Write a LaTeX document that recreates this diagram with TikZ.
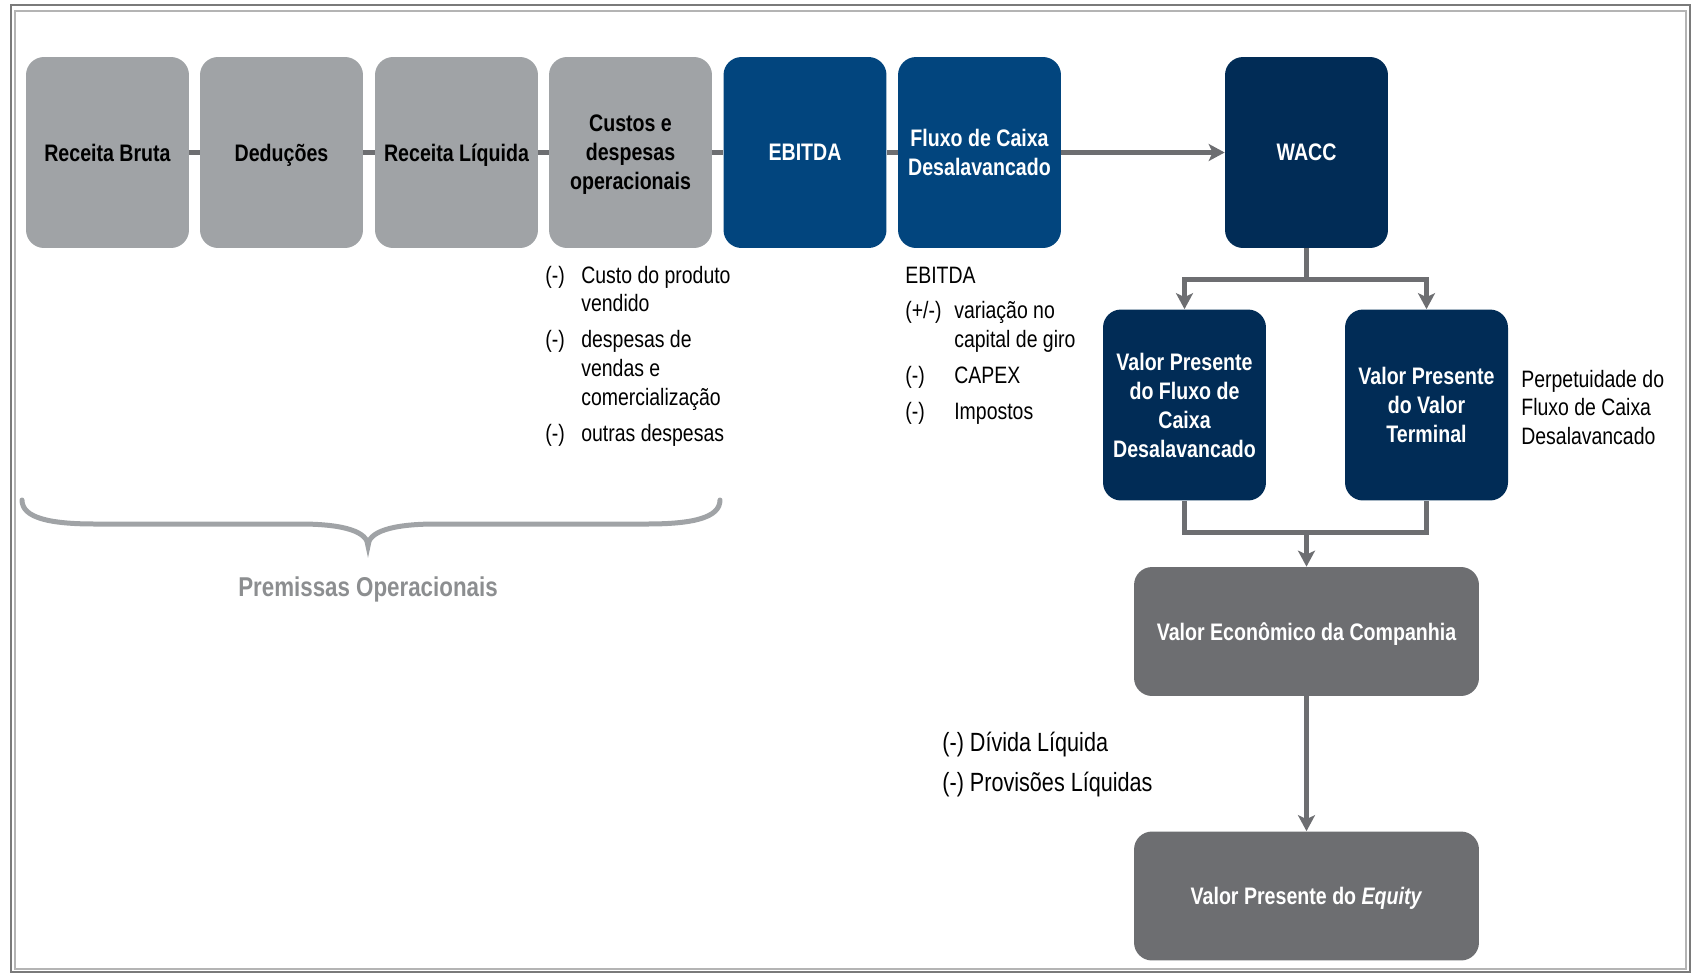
\documentclass[tikz,border=0pt]{standalone}
\usepackage{fontspec}
\setmainfont{Liberation Sans}[FakeStretch=0.82]
\usetikzlibrary{positioning,arrows.meta}

\definecolor{cinzaclaro}{HTML}{A0A3A6}
\definecolor{azulmedio}{HTML}{02457E}
\definecolor{azulescuro}{HTML}{012C56}
\definecolor{cinzaescuro}{HTML}{6D6E71}
\definecolor{cinzatexto}{HTML}{8C8E90}
\definecolor{molduraext}{HTML}{7A7A7A}
\definecolor{molduraint}{HTML}{B4B4B4}

\begin{document}
\begin{tikzpicture}[x=0.02cm, y=-0.02cm,
  etapa/.style={rectangle, rounded corners=0.36cm, minimum width=3.26cm, minimum height=3.82cm, align=center, inner sep=0pt, text depth=0pt, font=\fontsize{13.6}{16.5}\selectfont\bfseries},
  cinza/.style={etapa, fill=cinzaclaro, text=black},
  azul/.style={etapa, fill=azulmedio, text=white},
  marinho/.style={etapa, fill=azulescuro, text=white},
  resultado/.style={etapa, fill=cinzaescuro, text=white, minimum width=6.9cm, minimum height=2.58cm},
  ligacao/.style={draw=cinzaescuro, line width=0.1cm},
  seta/.style={ligacao, -{Stealth[length=0.32cm, width=0.34cm, inset=0.08cm]}},
  lista/.style={anchor=base west, inner sep=0pt, font=\fontsize{13.5}{16.5}\selectfont}
]
  \useasboundingbox (0,0) rectangle (1694,974);

  % Moldura dupla
  \draw[molduraext, line width=0.05cm] (11,5) rectangle (1690,972);
  \draw[molduraint, line width=0.04cm] (15,11) rectangle (1686,969);

  % Linha de premissas (caixas cinzas e azuis)
  \node[cinza] (rb) at (107.5,152.5) {Receita Bruta};
  \node[cinza] (ded) at (281.5,152.5) {Deduções};
  \node[cinza] (rl) at (456.5,152.5) {Receita Líquida};
  \node[cinza] (custos) at (630.5,152.5) {Custos e\\despesas\\operacionais};
  \node[azul] (ebitda) at (805,152.5) {EBITDA};
  \node[azul] (fluxo) at (979.5,152.5) {Fluxo de Caixa\\Desalavancado};

  % Desconto e valor
  \node[marinho] (wacc) at (1306.5,152.5) {WACC};
  \node[marinho] (vpfc) at (1184.5,405) {Valor Presente\\do Fluxo de\\Caixa\\Desalavancado};
  \node[marinho] (vpvt) at (1426.5,405) {Valor Presente\\do Valor\\Terminal};
  \node[resultado] (vec) at (1306.5,631.5) {Valor Econômico da Companhia};
  \node[resultado] (vpe) at (1306.5,896) {Valor Presente do \textit{Equity}};

  % Ligacoes da linha superior
  \draw[ligacao] (rb) -- (ded);
  \draw[ligacao] (ded) -- (rl);
  \draw[ligacao] (rl) -- (custos);
  \draw[ligacao] (custos) -- (ebitda);
  \draw[ligacao] (ebitda) -- (fluxo);
  \draw[seta] (fluxo) -- (wacc);

  % Divisao e juncao
  \path (wacc.south) ++(0,31) coordinate (divisao);
  \path (vec.north) ++(0,-34) coordinate (juncao);
  \draw[ligacao] (wacc) -- (divisao);
  \draw[seta] (divisao) -| (vpfc);
  \draw[seta] (divisao) -| (vpvt);
  \draw[ligacao] (vpfc) |- (juncao) -| (vpvt);
  \draw[seta] (juncao) -- (vec);
  \draw[seta] (vec) -- (vpe);

  % Textos explicativos
  \node[lista] (listacustos) at (545,283) {\begin{tabular}[t]{@{}p{0.72cm}@{}l@{}}
    (-) & Custo do produto\\ & vendido\\[0.14cm]
    (-) & despesas de\\ & vendas e\\ & comercialização\\[0.14cm]
    (-) & outras despesas
  \end{tabular}};
  \node[lista] (listafluxo) at (905,283) {\begin{tabular}[t]{@{}p{0.98cm}@{}l@{}}
    \multicolumn{2}{@{}l@{}}{EBITDA}\\[0.14cm]
    (+/-) & variação no\\ & capital de giro\\[0.14cm]
    (-) & CAPEX\\[0.14cm]
    (-) & Impostos
  \end{tabular}};
  \node[lista] (perpetuidade) at (1521,387) {\begin{tabular}[t]{@{}l@{}}
    Perpetuidade do\\Fluxo de Caixa\\Desalavancado
  \end{tabular}};
  \node[lista, font=\fontsize{15}{22.8}\selectfont] (dividas) at (942,751) {\begin{tabular}[t]{@{}l@{}}
    (-) Dívida Líquida\\(-) Provisões Líquidas
  \end{tabular}};

  % Chave das premissas operacionais
  \draw[cinzaclaro, line width=0.1cm, line cap=round]
    (22,500) .. controls (22,518) and (50,524) .. (95,524) -- (300,524)
    .. controls (345,524) and (368,532) .. (368,546)
    .. controls (368,532) and (391,524) .. (436,524) -- (647,524)
    .. controls (692,524) and (720,518) .. (720,500);
  \node[font=\fontsize{15.5}{19}\selectfont\bfseries, text=cinzatexto] (premissas) at (368,589) {Premissas Operacionais};

\end{tikzpicture}
\end{document}
